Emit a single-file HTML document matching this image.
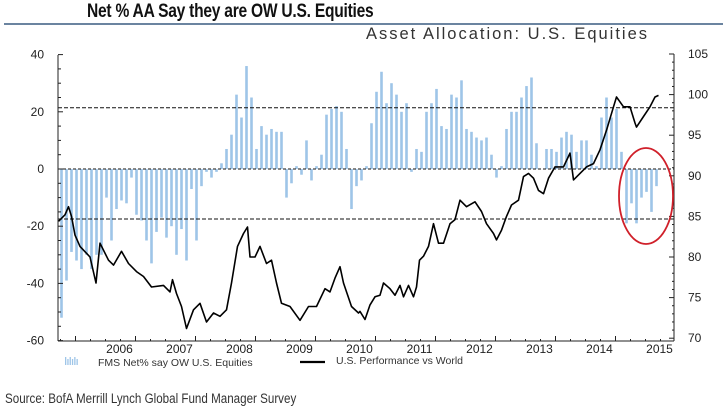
<!DOCTYPE html>
<html><head><meta charset="utf-8">
<style>
html,body{margin:0;padding:0;background:#fff;}
body{width:723px;height:410px;overflow:hidden;position:relative;font-family:"Liberation Sans",sans-serif;}
#title{position:absolute;left:87px;top:1px;font-family:"Liberation Sans Narrow","Liberation Sans",sans-serif;font-weight:bold;font-size:19px;color:#111;letter-spacing:-0.3px;white-space:nowrap;transform:scaleX(0.82);transform-origin:0 0;}
#rule{position:absolute;left:4px;top:23px;width:719px;height:2px;background:#6b84a0;}
#subtitle{position:absolute;left:366px;top:25px;font-size:16.5px;letter-spacing:2px;color:#333;white-space:nowrap;}
#source{position:absolute;left:5px;top:391px;font-family:"Liberation Sans Narrow","Liberation Sans",sans-serif;font-size:13.5px;color:#333;white-space:nowrap;transform:scaleX(0.86);transform-origin:0 0;}
svg{position:absolute;left:0;top:0;}
</style></head><body>
<div id="title">Net % AA Say they are OW U.S. Equities</div>
<div id="rule"></div>
<div id="subtitle">Asset Allocation: U.S. Equities</div>
<svg id="chart" width="723" height="410"></svg>
<div id="source">Source: BofA Merrill Lynch Global Fund Manager Survey</div>
<script>
const barValues=[-52,-39,-29,-32,-35,-30,-35,-30,-30,-10,-25,-14,-11,-12,-3,-16,-18,-25,-33,-22,-17,-24,-20,-30,-21,-32,-7,-25,-6,-1,-3,-1,2,7,12,26,18,36,25,7,15,12,14,13,13,-10,-5,1,-2,10,-4,1,5,19,21,22,20,7,-14,-6,
-4,1,16,27,34,23,30,26,20,23,-1,7,6,20,23,28,15,14,26,25,31,14,13,11,10,11,5,-3,1,14,20,20,25,29,32,9,0,7,7,6,11,13,12,6,10,10,5,1,18,25,18,21,6,-19,-12,-19,-10,-8,-15,-6];
const lineMonths=[-0.6,0.7,1.4,2.0,2.7,3.7,5.7,6.9,7.7,9.4,10.4,12.0,13.4,15.0,16.4,18.0,20.4,21.7,22.2,23.0,24.0,25.0,26.4,27.7,29.0,30.4,31.7,33.0,34.0,35.2,36.4,37.2,37.7,38.7,39.7,41.0,42.0,43.0,44.0,45.7,47.7,49.4,51.0,52.7,53.7,54.7,55.7,56.4,58.0,59.4,
59.7,60.7,61.7,62.7,63.7,64.4,65.7,66.7,67.7,68.4,69.4,70.4,71.0,71.6,72.4,73.4,74.4,75.4,76.4,77.7,78.7,79.7,81.0,82.7,84.0,85.0,86.4,87.0,88.0,89.0,90.0,91.4,92.4,93.4,94.4,95.4,96.4,97.4,98.7,100.4,101.7,102.4,103.7,105.0,106.4,107.7,109.0,110.4,111.0,112.4,113.7,114.7,115.0,116.4,117.7,118.7,119.4];
const lineValues=[84.4,85.2,86.2,85.0,82.7,81.3,80.0,76.8,81.7,79.6,79.0,80.7,79.2,78.2,77.6,76.3,76.5,75.7,77.2,75.5,73.9,71.2,73.5,74.3,72.0,73.1,72.7,73.5,76.8,81.3,82.9,83.7,80.0,80.0,81.3,79.2,79.6,76.8,74.3,73.9,72.2,73.9,73.9,76.1,75.7,77.4,78.8,76.8,73.9,73.1,
73.3,72.3,74.1,75.1,75.3,76.8,76.1,75.3,76.5,75.1,76.5,75.1,76.3,79.6,80.1,81.3,84.1,81.7,81.7,84.1,84.6,87.0,86.2,86.8,85.6,84.1,82.9,82.1,83.3,85.0,86.4,87.0,89.9,90.3,89.7,88.2,87.8,89.7,91.1,91.1,92.8,89.5,90.3,91.1,91.5,93.2,95.6,98.5,99.7,98.5,98.5,96.5,96.0,97.3,98.5,99.7,99.9];
const leftTicks=[40,20,0,-20,-40,-60];
const rightTicks=[105,100,95,90,85,80,75,70];
const yearLabels=["2006","2007","2008","2009","2010","2011","2012","2013","2014","2015"];
const refLines=[21.4,-17.5];

const NS="http://www.w3.org/2000/svg";
const svg=document.getElementById('chart');
const X0=58,X1=674,YT=55,YB=341;
const xm=m=>61.5+5*m;
const yl=v=>169-v*2.86;
const yr=v=>54+(105-v)*8.12;
function mk(t,a,p){const e=document.createElementNS(NS,t);for(const k in a)e.setAttribute(k,a[k]);(p||svg).appendChild(e);return e;}

const gb=mk('g',{});


barValues.forEach((v,i)=>{
  const y0=yl(0),y1=yl(v);
  const r=mk('rect',{x:xm(i)-1.3,y:Math.min(y0,y1),width:2.6,height:Math.abs(y1-y0),fill:'#9ec5e8'},gb);
  
  
});
refLines.forEach(v=>{
  const l=mk('line',{x1:X0,x2:X1,y1:yl(v),y2:yl(v),stroke:'#111','stroke-width':1,'stroke-dasharray':'4,2'});
  
  
});
const z=mk('line',{x1:X0,x2:X1,y1:yl(0),y2:yl(0),stroke:'#111','stroke-width':1,'stroke-dasharray':'3,2'});


const pts=lineMonths.map((m,i)=>xm(m).toFixed(1)+','+yr(lineValues[i]).toFixed(1)).join(' ');
const pl=mk('polyline',{points:pts,fill:'none',stroke:'#000','stroke-width':1.6,'stroke-linejoin':'round'});


const ax=mk('g',{stroke:'#222','stroke-width':1});


mk('line',{x1:X0,x2:X0,y1:YT,y2:YB},ax);
mk('line',{x1:X1,x2:X1,y1:YT-1,y2:YB},ax);
mk('line',{x1:X0,x2:X1,y1:YB,y2:YB},ax);
for(let v=-60;v<=40;v+=5){const y=yl(v);mk('line',{x1:X0,x2:X0+(v%20===0?5:3),y1:y,y2:y},ax);}
for(let v=70;v<=105;v+=1){const y=yr(v);mk('line',{x1:X1,x2:X1-(v%5===0?5:2),y1:y,y2:y},ax);}
for(let m=0;m<=120;m+=3){const x=xm(m)-1;mk('line',{x1:x,x2:x,y1:YB,y2:YB-(m%12===3?5:2)},ax);}
leftTicks.forEach(v=>{
  const t=mk('text',{x:44,y:yl(v)+4,'text-anchor':'end','font-size':12,fill:'#222','font-family':'Liberation Sans, sans-serif'});
  t.textContent=v;
  
  
});
rightTicks.forEach(v=>{
  const t=mk('text',{x:688,y:yr(v)+4,'font-size':12,fill:'#222','font-family':'Liberation Sans, sans-serif'});
  t.textContent=v;
  
  
});
yearLabels.forEach((s,i)=>{
  const t=mk('text',{x:xm(12*(i+1))-2,y:353,'text-anchor':'middle','font-size':12,fill:'#222','font-family':'Liberation Sans, sans-serif'});
  t.textContent=s;
  
  
});
const el=mk('ellipse',{cx:646,cy:196,rx:27,ry:48,fill:'none',stroke:'#d0202a','stroke-width':1.8});


const lg=mk('g',{});


[0,1,2,3,4,5].forEach(i=>mk('rect',{x:65+i*2.3,y:357+(i%2?2:0),width:1.3,height:(i%2?6:8),fill:'#9ec5e8'},lg));
const lt1=mk('text',{x:98,y:366,'font-size':10.5,fill:'#333','font-family':'Liberation Sans, sans-serif'},lg);
lt1.textContent='FMS Net% say OW U.S. Equities';
mk('line',{x1:300,x2:325,y1:362,y2:362,stroke:'#000','stroke-width':2.2},lg);
const lt2=mk('text',{x:336,y:364,'font-size':10.5,fill:'#333','font-family':'Liberation Sans, sans-serif'},lg);
lt2.textContent='U.S. Performance vs World';
</script>
</body></html>
